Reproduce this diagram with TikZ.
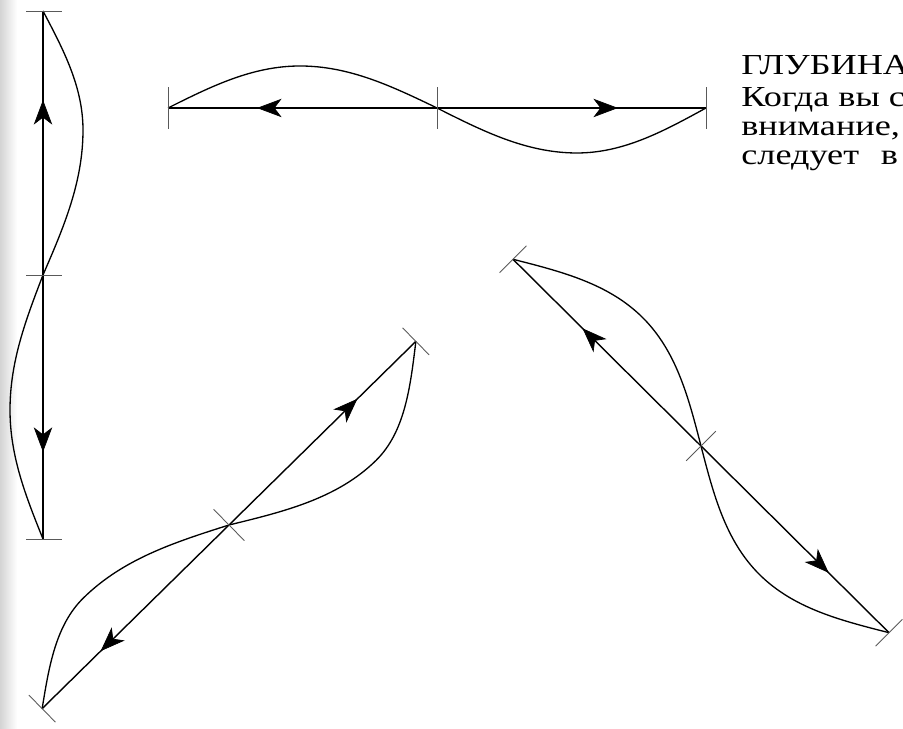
\documentclass[tikz,border=0pt]{standalone}
\usepackage{fontspec}
\setmainfont{Liberation Serif}
\newfontfamily\pagefont{Liberation Serif}[FakeStretch=1.25]
\usetikzlibrary{arrows.meta}
\tikzset{
	wave/.style={line width=0.75pt},
	axis/.style={line width=0.8pt},
	tick/.style={line width=0.5pt, black!65},
	txt/.style={anchor=base west, inner sep=0pt, font=\pagefont\fontsize{16.5}{20}\selectfont},
}
\begin{document}
\begin{tikzpicture}[>={Stealth[length=14pt,width=10.5pt,inset=4pt]}, x=0.02cm, y=0.02cm]
		\useasboundingbox (0,0) rectangle (903,729);
		\clip (0,0) rectangle (903,729);
		\shade[left color=black!17, right color=white] (0,0) rectangle (17,729);
		% vertical wave
		\begin{scope}[shift={(43,454)}, rotate=-90]
		\coordinate (vA) at (-264,0);
		\coordinate (vM) at (0,0);
		\coordinate (vB) at (264,0);
		\draw[axis] (vA) -- (vB);
		\draw[wave] (vA) sin (-145,40) cos (vM) sin (135,-33) cos (vB);
		\draw[tick] (-264,-17) -- (-264,19);
		\draw[tick] (0,-17) -- (0,19);
		\draw[tick] (264,-17) -- (264,19);
		\draw[->] (-174,0) -- (-175,0);
		\draw[->] (176,0) -- (177,0);
		\end{scope}
		% horizontal wave
		\begin{scope}[shift={(437,621)}]
		\coordinate (hA) at (-269,0);
		\coordinate (hM) at (0,0);
		\coordinate (hB) at (269,0);
		\draw[axis] (hA) -- (hB);
		\draw[wave] (hA) sin (-137,42) cos (hM) sin (140,-45) cos (hB);
		\draw[tick] (-269,-21) -- (-269,21);
		\draw[tick] (0,-21) -- (0,21);
		\draw[tick] (269,-21) -- (269,21);
		\draw[->] (-179,0) -- (-180,0);
		\draw[->] (180,0) -- (181,0);
		\end{scope}
		% lower left wave
		\begin{scope}[shift={(229,204)}, rotate=44.5]
		\coordinate (lA) at (-262,0);
		\coordinate (lM) at (0,0);
		\coordinate (lB) at (262,0);
		\draw[axis] (lA) -- (lB);
		\draw[wave] (lA) sin (-155,50) cos (lM) sin (150,-57) cos (lB);
		\draw[tick] (-262,-19) -- (-262,19);
		\draw[tick] (0,-22) -- (0,22);
		\draw[tick] (262,-19) -- (262,19);
		\draw[->] (-179,0) -- (-180,0);
		\draw[->] (179,0) -- (180,0);
		\end{scope}
		% right wave
		\begin{scope}[shift={(701,283)}, rotate=-44.8]
		\coordinate (rA) at (-265,0);
		\coordinate (rM) at (0,0);
		\coordinate (rB) at (265,0);
		\draw[axis] (rA) -- (rB);
		\draw[wave] (rA) sin (-132,50) cos (rM) sin (132,-50) cos (rB);
		\draw[tick] (-265,-19) -- (-265,19);
		\draw[tick] (0,-21) -- (0,21);
		\draw[tick] (265,-19) -- (265,19);
		\draw[->] (-166,0) -- (-167,0);
		\draw[->] (179,0) -- (180,0);
		\end{scope}
		% text
		\node[txt] (t1) at (741,654) {ГЛУБИНА};
		\node[txt] (t2) at (741,622) {Когда вы с};
		\node[txt] (t3) at (741,593) {внимание,};
		\node[txt] (t4) at (741,564) {следует\hspace{0.75em}в};
\end{tikzpicture}
\end{document}
